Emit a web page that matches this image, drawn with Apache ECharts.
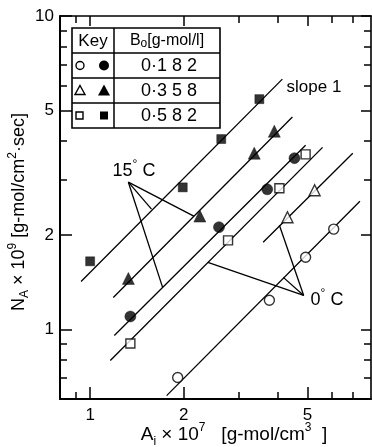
<!DOCTYPE html>
<html>
<head>
<meta charset="utf-8">
<script src="https://cdn.jsdelivr.net/npm/echarts@6/dist/echarts.min.js"></script>
<style>
  html, body { margin: 0; padding: 0; background: #fff; }
  #chart { width: 372px; height: 447px; }
</style>
</head>
<body>
<div id="chart"></div>
<script>
// axis ticks (log scale)
const xMajor = [1, 2, 5];
const xMinor = [0.9, 3, 4, 6, 7];
const yMajor = [1, 2, 5, 10];
const yMinor = [0.7, 0.8, 0.9, 3, 4, 6, 7, 8, 9];

// measured points, [A_i x 10^7, N_A x 10^9]
const filledCircle = [[1.347, 1.10], [2.596, 2.12], [3.71, 2.80], [4.54, 3.52]];
const filledTriangle = [[1.327, 1.455], [2.253, 2.30], [3.37, 3.65], [3.91, 4.29]];
const filledSquare = [[1.00, 1.65], [1.985, 2.84], [2.64, 4.05], [3.50, 5.43]];
const openCircle = [[1.912, 0.703], [3.77, 1.24], [4.93, 1.70], [6.07, 2.09]];
const openTriangle = [[4.31, 2.28], [5.27, 2.78]];
const openSquare = [[1.347, 0.902], [2.776, 1.924], [4.06, 2.82], [4.93, 3.62]];

// slope-1 lines, end points
const fitLines = [
  [[0.935, 1.423], [4.15, 6.29]],
  [[1.187, 1.265], [4.47, 4.76]],
  [[1.196, 0.957], [4.93, 3.87]],
  [[1.161, 0.796], [5.59, 3.81]],
  [[3.60, 1.897], [6.99, 3.65]],
  [[1.762, 0.615], [7.37, 2.564]]
];

// leader lines for the temperature labels
const hotVertex = [1.327, 2.95];
const hotEnds = [[1.575, 2.42], [2.154, 2.30], [1.71, 1.362]];
const coldVertex = [4.86, 1.284];
const coldEnds = [[2.391, 1.637], [4.06, 2.15], [4.18, 1.466]];

const keyValues = ['0·182', '0·358', '0·582'];

const FONT = 'Liberation Sans, Arial, sans-serif';
const BLACK = '#000';

const chart = echarts.init(document.getElementById('chart'));

function axis(kind, position, ticks, len, showLine, labels) {
  return {
    type: 'log',
    logBase: 10,
    min: kind === 'x' ? 0.8 : 0.6,
    max: kind === 'x' ? 8 : 10,
    position: position,
    axisLine: { show: showLine, lineStyle: { color: BLACK, width: position === 'bottom' || position === 'left' ? 2 : 1.6 } },
    axisTick: { show: true, inside: true, length: len, customValues: ticks, lineStyle: { color: BLACK, width: 1.5 } },
    axisLabel: labels
      ? { show: true, customValues: labels, color: BLACK, fontSize: 17, fontFamily: FONT, margin: kind === 'x' ? 8 : 6,
          formatter: (v) => String(Math.round(v)) }
      : { show: false },
    splitLine: { show: false },
    minorTick: { show: false },
    minorSplitLine: { show: false }
  };
}

function segment(a, b) {
  return {
    type: 'line',
    data: [a, b],
    symbol: 'none',
    silent: true,
    z: 2,
    lineStyle: { color: BLACK, width: 1.3 }
  };
}

function markers(data, symbol, size, filled) {
  return {
    type: 'scatter',
    data: data,
    symbol: symbol,
    symbolSize: size,
    z: 5,
    itemStyle: filled
      ? { color: BLACK, borderColor: BLACK, borderWidth: 0.5 }
      : { color: '#fff', borderColor: BLACK, borderWidth: 1.4 }
  };
}

const series = [];
fitLines.forEach((l) => series.push(segment(l[0], l[1])));
hotEnds.forEach((e) => series.push(segment(hotVertex, e)));
coldEnds.forEach((e) => series.push(segment(coldVertex, e)));
series.push(markers(filledCircle, 'circle', 11, true));
series.push(markers(filledTriangle, 'triangle', 12, true));
series.push(markers(filledSquare, 'rect', 9, true));
series.push(markers(openCircle, 'circle', 10, false));
series.push(markers(openTriangle, 'triangle', 11, false));
series.push(markers(openSquare, 'rect', 9, false));

// key table (top-left)
const tbl = { x0: 72, x1: 220, xc: 114, rows: [28, 53, 78, 103, 128] };
const graphic = [];
graphic.push({ type: 'rect', shape: { x: tbl.x0, y: tbl.rows[0], width: tbl.x1 - tbl.x0, height: tbl.rows[4] - tbl.rows[0] },
  style: { fill: '#fff', stroke: BLACK, lineWidth: 1.6 }, z: 10 });
graphic.push({ type: 'line', shape: { x1: tbl.xc, y1: tbl.rows[0], x2: tbl.xc, y2: tbl.rows[4] }, style: { stroke: BLACK, lineWidth: 1.5 }, z: 11 });
[1, 2, 3].forEach((i) => graphic.push({ type: 'line', shape: { x1: tbl.x0, y1: tbl.rows[i], x2: tbl.x1, y2: tbl.rows[i] },
  style: { stroke: BLACK, lineWidth: 1.5 }, z: 11 }));
graphic.push({ type: 'text', x: 93, y: 41, z: 12,
  style: { text: 'Key', fontSize: 17, fontFamily: FONT, fill: BLACK, align: 'center', verticalAlign: 'middle' } });
graphic.push({ type: 'text', x: 167, y: 41, z: 12,
  style: { text: '{b|B}{s|o}{b|[g-mol/l]}', align: 'center', verticalAlign: 'middle', fill: BLACK,
    rich: { b: { fontSize: 16, fontFamily: FONT, fill: BLACK, lineHeight: 18 },
            s: { fontSize: 12, fontFamily: FONT, fill: BLACK, lineHeight: 18, verticalAlign: 'bottom' } } } });
keyValues.forEach((t, i) => {
  graphic.push({ type: 'text', x: 169, y: (tbl.rows[i + 1] + tbl.rows[i + 2]) / 2 + 0.5, z: 12,
    style: { text: t.split('').join(' ').replace(' · ', '·'), fontSize: 18, fontFamily: FONT, fill: BLACK, align: 'center', verticalAlign: 'middle' } });
});
// key symbols
const r1 = 65.5, r2 = 90.5, r3 = 115.5;
graphic.push({ type: 'circle', shape: { cx: 80, cy: r1, r: 4 }, style: { fill: '#fff', stroke: BLACK, lineWidth: 1.4 }, z: 12 });
graphic.push({ type: 'circle', shape: { cx: 104, cy: r1, r: 5 }, style: { fill: BLACK }, z: 12 });
graphic.push({ type: 'polygon', shape: { points: [[80, r2 - 5], [85, r2 + 4], [75, r2 + 4]] }, style: { fill: '#fff', stroke: BLACK, lineWidth: 1.4 }, z: 12 });
graphic.push({ type: 'polygon', shape: { points: [[104, r2 - 6], [110, r2 + 5], [98, r2 + 5]] }, style: { fill: BLACK }, z: 12 });
graphic.push({ type: 'rect', shape: { x: 76, y: r3 - 3.5, width: 7, height: 7 }, style: { fill: '#fff', stroke: BLACK, lineWidth: 1.4 }, z: 12 });
graphic.push({ type: 'rect', shape: { x: 100, y: r3 - 4, width: 8, height: 8 }, style: { fill: BLACK }, z: 12 });

// annotations
function richSet(size) {
  const small = Math.round(size * 0.65);
  const lh = Math.round(size * 1.35);
  return {
    a: { fontSize: size, fontFamily: FONT, fill: BLACK, lineHeight: lh },
    sup: { fontSize: small, fontFamily: FONT, fill: BLACK, lineHeight: lh, verticalAlign: 'top' },
    sub: { fontSize: small, fontFamily: FONT, fill: BLACK, lineHeight: lh, verticalAlign: 'bottom' }
  };
}
graphic.push({ type: 'text', x: 314, y: 87, z: 12,
  style: { text: 'slope 1', fontSize: 17, fontFamily: FONT, fill: BLACK, align: 'center', verticalAlign: 'middle' } });
graphic.push({ type: 'text', x: 134, y: 171, z: 12,
  style: { text: '{a|15}{sup|°}{a| C}', rich: richSet(18), align: 'center', verticalAlign: 'middle' } });
graphic.push({ type: 'text', x: 327, y: 300, z: 12,
  style: { text: '{a|0}{sup|°}{a| C}', rich: richSet(18), align: 'center', verticalAlign: 'middle' } });
// axis titles
graphic.push({ type: 'text', x: 19, y: 212, rotation: Math.PI / 2, z: 12,
  style: { text: '{a|N}{sub|A}{a| × 10}{sup|9}{a| [g-mol/cm}{sup|2}{a|·sec]}', rich: richSet(18), align: 'center', verticalAlign: 'middle' } });
graphic.push({ type: 'text', x: 234, y: 435, z: 12,
  style: { text: '{a|A}{sub|i}{a| × 10}{sup|7}{a|   [g-mol/cm}{sup|3}{a|  ]}', rich: richSet(19), align: 'center', verticalAlign: 'middle' } });

chart.setOption({
  animation: false,
  backgroundColor: '#fff',
  grid: { left: 60, top: 16, right: 1, bottom: 48, containLabel: false },
  xAxis: [
    axis('x', 'bottom', xMajor, 12, true, xMajor),
    axis('x', 'bottom', xMinor, 7, false, null),
    axis('x', 'top', xMajor, 10, true, null),
    axis('x', 'top', xMinor, 7, false, null)
  ],
  yAxis: [
    axis('y', 'left', yMajor, 12, true, yMajor),
    axis('y', 'left', yMinor, 7, false, null),
    axis('y', 'right', yMajor, 10, true, null),
    axis('y', 'right', yMinor, 7, false, null)
  ],
  series: series,
  graphic: graphic
});
</script>
</body>
</html>
